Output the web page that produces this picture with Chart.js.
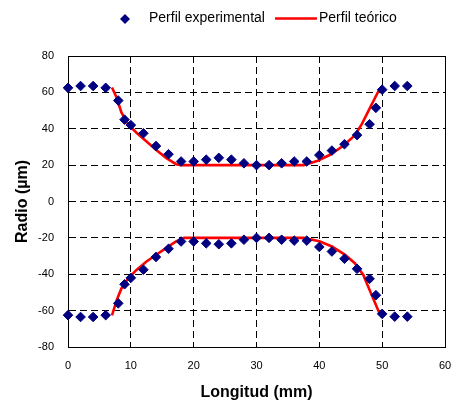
<!DOCTYPE html>
<html><head><meta charset="utf-8">
<script src="https://cdn.jsdelivr.net/npm/chart.js@4/dist/chart.umd.min.js"></script>
<style>html,body{margin:0;padding:0;background:#fff;}#wrap{width:453px;height:403px;}</style>
</head><body><div id="wrap"><canvas id="c" width="453" height="403"></canvas></div>
<script>
// ---- data ----
const expX = [0,2,4,6,8,9,10,12,14,16,18,20,22,24,26,28,30,32,34,36,38,40,42,44,46,48,49,50,52,54];
const expUpper = [62.5,63.5,63.5,62.5,55.5,45,42,37.5,30.5,26,22,22,23,24,23,21,20,20,21,22,22,25.5,28,31.5,36.5,42.5,51.5,61.5,63.5,63.5];
const expLower = [-62.5,-63.5,-63.5,-62.5,-56,-45.5,-42,-37.5,-30.5,-26,-22,-22,-23,-23.5,-23,-21,-20,-20,-21,-21.5,-21.5,-25,-27.5,-31.5,-37,-42.5,-51.5,-61.8,-63.3,-63.3];
const theoUpperX = [7,7.75,8.5,9.6,10.9,12.5,14,15.6,17.2,18,37.5,39.75,41.7,43.7,45.65,46.8,48,49.6];
const theoUpperY = [62.7,57,49,42.4,37.8,33,28.5,24,20.5,20,20,22.4,25.7,30.4,36.3,42.8,51.1,62];
const theoLowerX = [7,7.75,8.5,9.6,10.9,12.5,14.05,15.6,17.2,18.5,37.5,40,42,44.1,45.65,47,48,49.6];
const theoLowerY = [-62.6,-54.3,-47.8,-42.2,-37.6,-33,-29.3,-25.6,-21.9,-20,-20,-21.9,-24.7,-29.3,-33.9,-40.4,-48.7,-61.7];
const xTicks = [0,10,20,30,40,50,60];
const yTicks = [-80,-60,-40,-20,0,20,40,60,80];
const seriesNames = ['Perfil experimental','Perfil teórico'];
const xTitle = 'Longitud (mm)';
const yTitle = 'Radio (µm)';

const pts = (xs, ys) => xs.map((x, i) => ({x: x, y: ys[i]}));
const NAVY = '#000080', RED = '#FF0000';

const expStyle = {type:'scatter', pointStyle:'rectRot', pointRadius:4.8, pointHoverRadius:4.8,
  backgroundColor:NAVY, borderColor:NAVY, borderWidth:1, showLine:false, clip:false, order:1};
const lineStyle = {type:'line', borderColor:RED, backgroundColor:RED, borderWidth:2.6, pointRadius:0,
  tension:0, fill:false, order:2};

const frameLegend = {
  id:'frameLegend',
  beforeDatasetsDraw(chart){
    const {ctx, chartArea:a} = chart;
    ctx.save();
    ctx.strokeStyle = '#000'; ctx.lineWidth = 1;
    ctx.strokeRect(Math.round(a.left)+0.5, Math.round(a.top)+0.5, Math.round(a.right-a.left), Math.round(a.bottom-a.top));
    ctx.restore();
  },
  afterDraw(chart){
    const ctx = chart.ctx;
    ctx.save();
    ctx.fillStyle = NAVY;
    ctx.beginPath();
    const cx = 125, cy = 19, r = 5;
    ctx.moveTo(cx, cy-r); ctx.lineTo(cx+r, cy); ctx.lineTo(cx, cy+r); ctx.lineTo(cx-r, cy); ctx.closePath();
    ctx.fill();
    ctx.font = '14px "Liberation Sans", Arial, sans-serif';
    ctx.fillStyle = '#000';
    ctx.textBaseline = 'middle';
    ctx.textAlign = 'left';
    ctx.fillText(seriesNames[0], 149, 18);
    ctx.strokeStyle = RED; ctx.lineWidth = 2.6;
    ctx.beginPath(); ctx.moveTo(275, 18.5); ctx.lineTo(317, 18.5); ctx.stroke();
    ctx.fillText(seriesNames[1], 319, 18);
    ctx.restore();
  }
};

const tickFont = {family:'"Liberation Sans", Arial, sans-serif', size:11};
const titleFont = {family:'"Liberation Sans", Arial, sans-serif', size:16, weight:'bold'};

new Chart(document.getElementById('c'), {
  type:'scatter',
  data:{datasets:[
    Object.assign({label:seriesNames[0], data:pts(expX, expUpper)}, expStyle),
    Object.assign({label:seriesNames[0]+' (inferior)', data:pts(expX, expLower)}, expStyle),
    Object.assign({label:seriesNames[1], data:pts(theoUpperX, theoUpperY)}, lineStyle),
    Object.assign({label:seriesNames[1]+' (inferior)', data:pts(theoLowerX, theoLowerY)}, lineStyle)
  ]},
  options:{
    responsive:false, animation:false, devicePixelRatio:1,
    layout:{padding:{top:56, right:8, left:0, bottom:0}},
    plugins:{legend:{display:false}, tooltip:{enabled:false}},
    scales:{
      x:{type:'linear', min:xTicks[0], max:xTicks[xTicks.length-1],
        afterBuildTicks(s){ s.ticks = xTicks.map(v => ({value:v})); },
        afterFit(s){ s.height = 56; s.paddingLeft = 0; s.paddingRight = 0; },
        ticks:{font:tickFont, color:'#000', padding:12, maxRotation:0},
        grid:{color:'#000', lineWidth:1, drawTicks:false},
        border:{color:'#000', width:1, dash:[7,4]},
        title:{display:true, text:xTitle, font:titleFont, color:'#000', padding:{top:0, bottom:1}}
      },
      y:{type:'linear', min:yTicks[0], max:yTicks[yTicks.length-1],
        afterBuildTicks(s){ s.ticks = yTicks.map(v => ({value:v})); },
        afterFit(s){ s.width = 68; },
        ticks:{font:tickFont, color:'#000', padding:14},
        grid:{color:'#000', lineWidth:1, drawTicks:false},
        border:{color:'#000', width:1, dash:[7,4]},
        title:{display:true, text:yTitle, font:titleFont, color:'#000', padding:{top:13, bottom:0}}
      }
    }
  },
  plugins:[frameLegend]
});
</script></body></html>
